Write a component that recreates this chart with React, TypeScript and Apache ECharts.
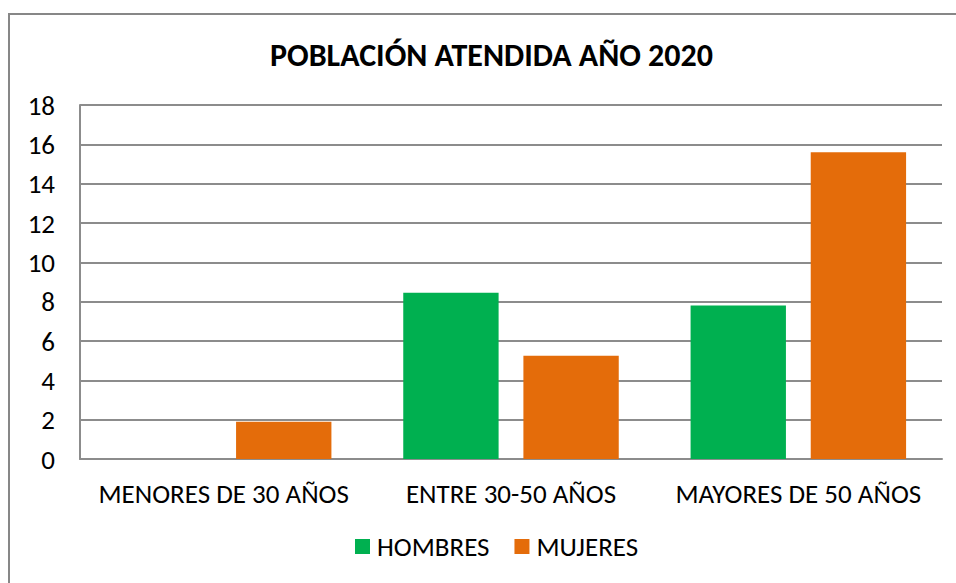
import React, { useEffect, useRef } from "react";
import * as echarts from "echarts";

const categories = ["MENORES DE 30 AÑOS", "ENTRE 30-50 AÑOS", "MAYORES DE 50 AÑOS"];
const hombres = [0, 8.45, 7.8];
const mujeres = [1.9, 5.25, 15.6];
const seriesNames = ["HOMBRES", "MUJERES"];
const titleText = "POBLACIÓN ATENDIDA AÑO 2020";

const FONT = "Carlito, Calibri, 'Liberation Sans Narrow', 'Open Sans', sans-serif";

export default function App() {
  const ref = useRef<HTMLDivElement>(null);
  useEffect(() => {
    document.body.style.margin = "0";
    const chart = echarts.init(ref.current!, undefined, { renderer: "svg" });
    chart.setOption({
      animation: false,
      backgroundColor: "#ffffff",
      title: {
        text: titleText,
        left: 270,
        top: 39,
        padding: 0,
        textStyle: { fontFamily: FONT, fontSize: 32, fontWeight: "bold", color: "#000000" },
      },
      graphic: [
        {
          type: "rect",
          shape: { x: 9, y: 14, width: 1000, height: 700 },
          style: { fill: "none", stroke: "#878787", lineWidth: 2 },
          silent: true,
        },
      ],
      legend: {
        bottom: 18,
        left: 350,
        itemWidth: 15,
        itemHeight: 15,
        itemGap: 25,
        icon: "rect",
        textStyle: { fontFamily: FONT, fontSize: 27, color: "#000000", padding: [0, 0, 0, 2] },
        data: seriesNames,
      },
      grid: { left: 80, right: 14, top: 105, bottom: 124 },
      xAxis: {
        type: "category",
        data: categories,
        axisLine: { show: true, lineStyle: { color: "#8c8c8c", width: 2 } },
        axisTick: { show: false },
        axisLabel: { fontFamily: FONT, fontSize: 27, color: "#000000", margin: 21, interval: 0 },
      },
      yAxis: {
        type: "value",
        min: 0,
        max: 18,
        interval: 2,
        axisLine: { show: true, lineStyle: { color: "#8c8c8c", width: 2 } },
        axisTick: { show: false },
        splitLine: { lineStyle: { color: "#8c8c8c", width: 2 } },
        axisLabel: { fontFamily: FONT, fontSize: 27, color: "#000000", margin: 25 },
      },
      series: [
        {
          name: seriesNames[0],
          type: "bar",
          data: hombres,
          barGap: "26%",
          barCategoryGap: "25%",
          itemStyle: { color: "#00B050" },
        },
        {
          name: seriesNames[1],
          type: "bar",
          data: mujeres,
          itemStyle: { color: "#E46C0A" },
        },
      ],
    });
    return () => chart.dispose();
  }, []);
  return <div ref={ref} style={{ width: 956, height: 583 }} />;
}
